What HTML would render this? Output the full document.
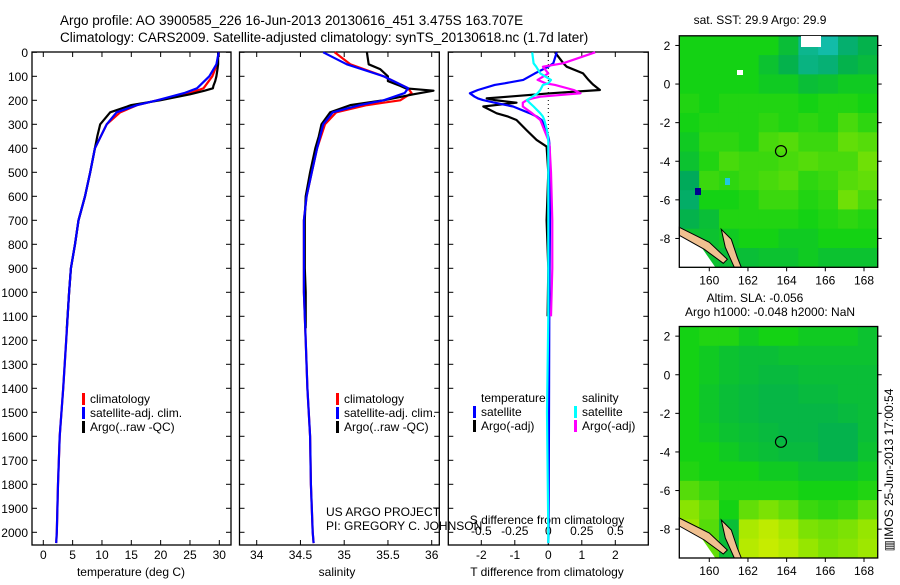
<!DOCTYPE html>
<html><head><meta charset="utf-8"><style>
html,body{margin:0;padding:0;background:#fff;}
svg text{font-family:"Liberation Sans",sans-serif;fill:#000;}
</style></head><body>
<svg id="fig" width="900" height="580" xmlns="http://www.w3.org/2000/svg">
<text x="60" y="25" font-size="13.5">Argo profile: AO 3900585_226 16-Jun-2013 20130616_451 3.475S 163.707E</text>
<text x="60" y="42" font-size="13.5">Climatology: CARS2009. Satellite-adjusted climatology: synTS_20130618.nc (1.7d later)</text>
<g id="g1"></g>
<g id="g2"></g>
<g id="g3"></g>
<g id="m1"></g>
<g id="m2"></g>
<text x="760" y="24" font-size="12" text-anchor="middle">sat. SST: 29.9 Argo: 29.9</text>
<text x="755" y="302" font-size="12" text-anchor="middle">Altim. SLA: -0.056</text>
<text x="770" y="316" font-size="12" text-anchor="middle">Argo h1000: -0.048 h2000: NaN</text>
<text transform="translate(893,470) rotate(-90)" font-size="12" text-anchor="middle">▥IMOS 25-Jun-2013 17:00:54</text>
</svg>
<script>
// ---- data ----
const depthTicks=[0,100,200,300,400,500,600,700,800,900,1000,1100,1200,1300,1400,1500,1600,1700,1800,1900,2000];
const tTicks=[0,5,10,15,20,25,30];
const sTicks=[34,34.5,35,35.5,36];
const dTTicks=[-2,-1,0,1,2];
const dSTicks=[-0.5,-0.25,0,0.25,0.5];
const dTLabels=["-2","-1","0","1","2"];
const dSLabels=["-0.5","-0.25","0","0.25","0.5"];
const climDepth=[0,50,100,150,170,200,220,250,300,400,500,600,700,800,900,1000,1200,1400,1600,1800,2000,2045];
const climT=[29.9,29.6,28.8,27.3,25.0,19.4,16.0,13.1,10.8,8.8,8.0,7.1,6.0,5.4,4.7,4.4,3.9,3.4,2.8,2.5,2.3,2.2];
const satT=[29.9,29.5,28.3,26.2,24.0,19.4,16.0,12.5,10.8,8.8,8.0,7.1,6.0,5.4,4.7,4.4,3.9,3.4,2.8,2.5,2.3,2.2];
const climS=[34.89,35.07,35.45,35.73,35.77,35.64,35.26,34.91,34.78,34.69,34.63,34.57,34.54,34.54,34.54,34.54,34.56,34.58,34.61,34.62,34.64,34.65];
const satS=[34.76,35.03,35.45,35.73,35.69,35.45,35.18,34.87,34.76,34.69,34.63,34.57,34.54,34.54,34.54,34.54,34.56,34.58,34.61,34.62,34.64,34.65];
const argoDepth=[0,50,70,100,120,140,150,160,175,200,220,250,300,350,400,500,600,700,800,900,1000,1150];
const argoT=[29.8,29.8,29.7,29.5,29.3,29.0,28.9,27.5,25.0,19.9,15.0,11.4,9.7,9.2,8.8,8.0,7.1,6.0,5.4,4.7,4.4,4.0];
const argoS=[35.26,35.28,35.41,35.50,35.50,35.64,35.70,36.02,35.79,35.45,35.07,34.84,34.74,34.71,34.67,34.61,34.56,34.55,34.55,34.55,34.56,34.56];
const diffDepth=[0,46,60,88,115,129,136,157,171,185,192,199,210,226,254,268,282,324,365,393,500,700,900,1100,1500,2000,2045];
const dTsat=[0.25,0.15,0.0,-0.4,-0.75,-1.3,-1.6,-2.1,-2.34,-2.2,-2.1,-1.95,-1.6,-1.05,-0.55,-0.34,-0.2,-0.05,0.02,0.04,0.05,0.05,0.04,0.03,0.02,0.01,0.0];
const dTargo=[0.2,0.45,0.55,1.04,1.2,1.3,1.35,1.54,0.05,-1.2,-1.84,-1.6,-0.95,-1.94,-1.54,-1.2,-0.95,-0.65,-0.35,-0.05,0.0,-0.05,0.0,-0.02,null,null,null];
const dSsat=[-0.12,-0.11,-0.09,-0.06,0.02,0.0,-0.04,-0.06,-0.08,-0.12,-0.14,-0.16,-0.14,-0.11,-0.06,-0.04,-0.03,-0.01,0.0,0.0,0.0,0.0,0.0,0.0,-0.01,0.0,0.0];
const dSargo=[0.35,0.11,-0.04,0.0,-0.08,-0.02,0.05,0.19,0.24,-0.06,-0.12,-0.16,-0.19,-0.19,-0.12,-0.09,-0.06,-0.03,0.0,0.01,0.02,0.03,0.03,0.02,null,null,null];
const mapLat=[2,0,-2,-4,-6,-8];
const mapLon=[160,162,164,166,168];
const floatLon=163.707, floatLat=-3.475;
const sstGrid=[
[.6,.6,.6,.6,.6,.55,.42,.38,.47,.52],
[.6,.6,.6,.6,.56,.52,.44,.46,.52,.54],
[.6,.6,.6,.6,.58,.58,.55,.56,.58,.58],
[.62,.6,.62,.62,.62,.62,.6,.62,.62,.6],
[.6,.62,.62,.62,.64,.62,.64,.62,.68,.64],
[.58,.64,.64,.62,.68,.7,.66,.66,.72,.7],
[.56,.62,.68,.66,.66,.68,.7,.68,.68,.74],
[.5,.66,.64,.66,.68,.7,.64,.66,.7,.72],
[.48,.6,.6,.62,.66,.66,.62,.64,.74,.68],
[.52,.55,.62,.62,.62,.62,.6,.62,.64,.62],
[.56,.56,.58,.6,.6,.58,.58,.6,.6,.6],
[.56,.56,.55,.55,.56,.56,.58,.56,.56,.56]];
const slaGrid=[
[.6,.62,.62,.58,.6,.6,.58,.58,.58,.56],
[.6,.58,.56,.55,.55,.56,.56,.56,.56,.56],
[.6,.58,.56,.55,.54,.54,.55,.55,.55,.55],
[.6,.57,.55,.54,.53,.53,.54,.54,.55,.55],
[.6,.57,.55,.54,.53,.53,.53,.53,.54,.55],
[.6,.58,.56,.55,.54,.53,.53,.52,.52,.55],
[.6,.6,.58,.56,.55,.54,.54,.52,.52,.56],
[.62,.6,.6,.6,.58,.58,.56,.56,.56,.58],
[.7,.66,.62,.62,.62,.62,.6,.6,.6,.62],
[.78,.72,.6,.72,.76,.72,.66,.64,.66,.72],
[.82,.7,.55,.85,.9,.84,.76,.74,.76,.8],
[.84,.72,.55,.88,.92,.88,.8,.76,.78,.82]];

const NS="http://www.w3.org/2000/svg";
function mk(parent,tag,attrs,name,txt){
  const e=document.createElementNS(NS,tag);
  for(const k in attrs)e.setAttribute(k,attrs[k]);
  
  
  if(txt!==undefined)e.textContent=txt;
  parent.appendChild(e);return e;
}
const TOP=52.3, BOT=545, PPD=0.24;
const yD=d=>TOP+d*PPD;
function panel(g,x0,x1){
  mk(g,'rect',{x:x0,y:52,width:x1-x0,height:BOT-52,fill:'#fff',stroke:'#000','stroke-width':1.3},'panel-frame');
}
function line(g,xs,ds,fx,color,w,name){
  let pts=[];
  for(let i=0;i<ds.length;i++){ if(xs[i]===null||xs[i]===undefined)continue; pts.push(fx(xs[i]).toFixed(1)+','+yD(ds[i]).toFixed(1)); }
  mk(g,'polyline',{points:pts.join(' '),fill:'none',stroke:color,'stroke-width':w,'stroke-linejoin':'round'},name);
}
function xTicks(g,x0,x1,ticks,fx,labels,ly){
  ticks.forEach((t,i)=>{const x=fx(t);
    mk(g,'line',{x1:x,y1:52,x2:x,y2:57,stroke:'#000'},'x-tick-top');
    mk(g,'line',{x1:x,y1:BOT,x2:x,y2:BOT-5,stroke:'#000'},'x-tick-bottom');
    if(labels)mk(g,'text',{x:x,y:ly,'font-size':12,'text-anchor':'middle'},'x-tick-label',labels[i]);
  });
}
function yTicks(g,x0,x1){
  depthTicks.forEach(d=>{const y=yD(d);
    mk(g,'line',{x1:x0,y1:y,x2:x0+5,y2:y,stroke:'#000'},'y-tick-left');
    mk(g,'line',{x1:x1,y1:y,x2:x1-5,y2:y,stroke:'#000'},'y-tick-right');
  });
}
function legend(g,x,y,items){
  items.forEach((it,i)=>{
    mk(g,'rect',{x:x,y:y+i*14-10,width:3,height:12,fill:it[0]},'legend-swatch');
    mk(g,'text',{x:x+8,y:y+i*14,'font-size':12},'legend-entry',it[1]);
  });
}
// Panel 1
const g1=document.getElementById('g1');
const fT=t=>43.3+t*5.867;
panel(g1,32,231);
depthTicks.forEach(d=>mk(g1,'text',{x:28,y:yD(d)+4.5,'font-size':12,'text-anchor':'end'},'y-tick-label',String(d)));
yTicks(g1,32,231);
xTicks(g1,32,231,tTicks,fT,tTicks.map(String),559);
mk(g1,'text',{x:131,y:576,'font-size':12,'text-anchor':'middle'},'x-axis-title','temperature (deg C)');
line(g1,climT,climDepth,fT,'#ff0000',2.2,'climatology-temperature-line');
line(g1,argoT,argoDepth,fT,'#000',2.2,'argo-temperature-line');
line(g1,satT,climDepth,fT,'#0000ff',2.2,'satellite-temperature-line');
legend(g1,82,403,[['#f00','climatology'],['#00f','satellite-adj. clim.'],['#000','Argo(..raw -QC)']]);
// Panel 2
const g2=document.getElementById('g2');
const fS=s=>256.7+(s-34)*87.5;
panel(g2,239.5,439.3);
yTicks(g2,239.5,439.3);
xTicks(g2,239.5,439.3,sTicks,fS,sTicks.map(String),559);
mk(g2,'text',{x:337,y:576,'font-size':12,'text-anchor':'middle'},'x-axis-title','salinity');
line(g2,climS,climDepth,fS,'#ff0000',2.2,'climatology-salinity-line');
line(g2,argoS,argoDepth,fS,'#000',2.2,'argo-salinity-line');
line(g2,satS,climDepth,fS,'#0000ff',2.2,'satellite-salinity-line');
legend(g2,336,403,[['#f00','climatology'],['#00f','satellite-adj. clim.'],['#000','Argo(..raw -QC)']]);
// Panel 3
const g3=document.getElementById('g3');
const fDT=t=>548.3+t*33.5;
const fDS=s=>548.3+s*134;
panel(g3,448.3,648.3);
yTicks(g3,448.3,648.3);
xTicks(g3,448.3,648.3,dTTicks,fDT,dTLabels,559);
mk(g3,'line',{x1:548.3,y1:52,x2:548.3,y2:BOT,stroke:'#000','stroke-dasharray':'1,3'},'zero-line');
dSTicks.forEach((s,i)=>mk(g3,'text',{x:fDS(s),y:535,'font-size':12,'text-anchor':'middle'},'s-tick-label',dSLabels[i]));
mk(g3,'text',{x:547,y:524,'font-size':12,'text-anchor':'middle'},'s-axis-title','S difference from climatology');
mk(g3,'text',{x:547,y:576,'font-size':12,'text-anchor':'middle'},'x-axis-title','T difference from climatology');
line(g3,dTargo,diffDepth,fDT,'#000',2.2,'argo-temperature-diff-line');
line(g3,dTsat,diffDepth,fDT,'#0000ff',2.2,'satellite-temperature-diff-line');
line(g3,dSargo,diffDepth,fDS,'#ff00ff',2.2,'argo-salinity-diff-line');
line(g3,dSsat,diffDepth,fDS,'#00ffff',2.2,'satellite-salinity-diff-line');
mk(g3,'text',{x:481,y:402,'font-size':12},'legend-header-temperature','temperature');
mk(g3,'text',{x:582,y:402,'font-size':12},'legend-header-salinity','salinity');
legend(g3,473,416,[['#00f','satellite'],['#000','Argo(-adj)']]);
legend(g3,574,416,[['#0ff','satellite'],['#f0f','Argo(-adj)']]);
mk(g3,'text',{x:326,y:516,'font-size':12},'credit-project','US ARGO PROJECT');
mk(g3,'text',{x:326,y:530,'font-size':12},'credit-pi','PI: GREGORY C. JOHNSON');
// Maps
function cmap(v){
  const stops=[[0,[0,0,140]],[0.3,[30,200,220]],[0.5,[0,170,90]],[0.6,[20,210,20]],[0.8,[150,230,0]],[1,[230,240,0]]];
  for(let i=1;i<stops.length;i++){ if(v<=stops[i][0]){const a=stops[i-1],b=stops[i],f=(v-a[0])/(b[0]-a[0]);
    return 'rgb('+a[1].map((c,j)=>Math.round(c+(b[1][j]-c)*f)).join(',')+')';}}
  return 'rgb(230,240,0)';
}
function drawMap(id,top,grid){
  const g=document.getElementById(id);
  const L=679.3,R=877.7,B=top+231.5;
  const fx=lon=>L+(lon-158.45)*19.34;
  const fy=lat=>top+(2.5-lat)*19.3;
  const rows=grid.length,cols=grid[0].length,cw=(R-L)/cols,ch=(B-top)/rows;
  grid.forEach((row,r)=>row.forEach((v,c)=>mk(g,'rect',{x:L+c*cw,y:top+r*ch,width:cw+0.5,height:ch+0.5,fill:cmap(v)},'map-cell')));
  mk(g,'polygon',{points:[L,B-36,L+18,B-26,L+36,B,L,B].join(' '),fill:'#fff'},'no-data-area');
  mk(g,'polygon',{points:[L,B-40,L+30,B-25,L+48,B-8,L+44,B-4,L+25,B-18,L,B-32].join(' '),fill:'#f0c090',stroke:'#000','stroke-width':1},'island-coast');
  mk(g,'polygon',{points:[L+42,B-38,L+52,B-28,L+58,B-10,L+62,B,L+55,B,L+46,B-20].join(' '),fill:'#f0c090',stroke:'#000','stroke-width':1},'island-coast');
  mk(g,'rect',{x:L,y:top,width:R-L,height:B-top,fill:'none',stroke:'#000','stroke-width':1.3},'map-frame');
  mk(g,'circle',{cx:fx(floatLon),cy:fy(floatLat),r:5.5,fill:'none',stroke:'#000','stroke-width':1.2},'float-location-marker');
  mapLat.forEach(lat=>{const y=fy(lat);
    mk(g,'line',{x1:L-4,y1:y,x2:L,y2:y,stroke:'#000'},'lat-tick');
    mk(g,'line',{x1:R,y1:y,x2:R+4,y2:y,stroke:'#000'},'lat-tick-right');
    mk(g,'text',{x:L-9,y:y+4.5,'font-size':12,'text-anchor':'end'},'lat-tick-label',String(lat));});
  mapLon.forEach(lon=>{const x=fx(lon);
    mk(g,'line',{x1:x,y1:B,x2:x,y2:B+4,stroke:'#000'},'lon-tick');
    mk(g,'text',{x:x,y:B+17,'font-size':12,'text-anchor':'middle'},'lon-tick-label',String(lon));});
}
drawMap('m1',35.8,sstGrid);
drawMap('m2',326.5,slaGrid);
// no-data and anomaly patches in SST map
const m1=document.getElementById('m1');
mk(m1,'rect',{x:801,y:36,width:20,height:11,fill:'#fff'},'no-data-patch');
mk(m1,'rect',{x:737,y:70,width:6,height:5,fill:'#fff'},'no-data-patch');
mk(m1,'rect',{x:695,y:188,width:6,height:7,fill:'#000090'},'cold-pixel');
mk(m1,'rect',{x:725,y:178,width:5,height:7,fill:'#20c8e0'},'cyan-pixel');
</script>
</body></html>
